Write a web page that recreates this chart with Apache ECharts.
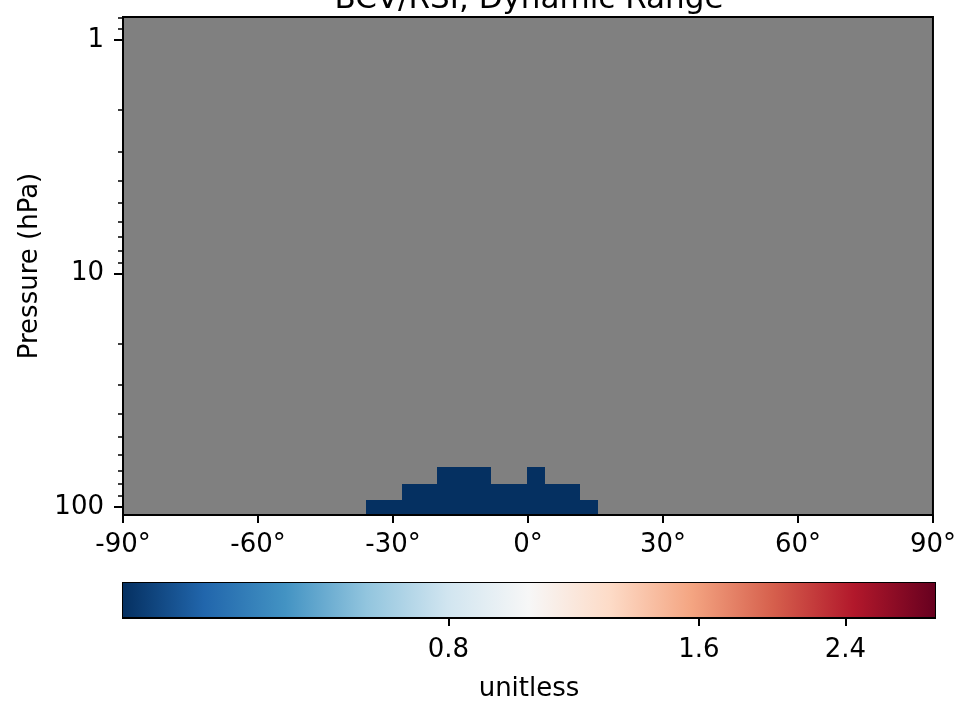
<!DOCTYPE html>
<html><head><meta charset="utf-8">
<script src="https://cdn.jsdelivr.net/npm/echarts@6/dist/echarts.min.js"></script>
<style>html,body{margin:0;padding:0;background:#fff}#c{width:959px;height:703px}</style>
</head><body><div id="c"></div>
<script>
const titleText = 'BCV/RSI, Dynamic Range';
const yAxisName = 'Pressure (hPa)';
const colorbarName = 'unitless';
const latMin = -90, latMax = 90, latStep = 30;
const pressureMin = 0.798, pressureMax = 108.4;
const pressureMajorTicks = [1, 10, 100];
const pressureMinorTicks = [0.8, 0.9, 2, 3, 4, 5, 6, 7, 8, 9, 20, 30, 40, 50, 60, 70, 80, 90];
const colorMin = 0.325, colorMax = 3.075;
const colorbarTicks = [0.8, 1.6, 2.4];
// cell edges
const latEdges = [-36.05, -32.08, -28.1, -24.13, -20.15, -16.18, -12.2, -8.23, -4.25, -0.28, 3.7, 7.67, 11.65, 15.62];
const pressureEdges = [108.4, 93.2, 79.6, 67.4];
// values per pressure row (bottom to top), one per latitude cell; null = no data
const row0 = [0.325, 0.325, 0.325, 0.325, 0.325, 0.325, 0.325, 0.325, 0.325, 0.325, 0.325, 0.325, 0.325];
const row1 = [null, null, 0.325, 0.325, 0.325, 0.325, 0.325, 0.325, 0.325, 0.325, 0.325, 0.325, null];
const row2 = [null, null, null, null, 0.325, 0.325, 0.325, null, null, 0.325, null, null, null];
const rows = [row0, row1, row2];
const rdbuR = ['#053061', '#2166ac', '#4393c3', '#92c5de', '#d1e5f0', '#f7f7f7', '#fddbc7', '#f4a582', '#d6604d', '#b2182b', '#67001f'];

const L = Math.log10;
const cells = [];
rows.forEach((row, r) => {
  row.forEach((v, i) => {
    if (v == null) return;
    cells.push([latEdges[i], latEdges[i + 1], L(pressureEdges[r]), L(pressureEdges[r + 1]), L(v)]);
  });
});

const FONT = 'DejaVu Sans';
const txt = { color: '#000', fontFamily: FONT, fontSize: 26 };
const blackLine = { color: '#000', width: 2 };

const chart = echarts.init(document.getElementById('c'), null, { renderer: 'canvas' });
chart.setOption({
  backgroundColor: '#fff',
  animation: false,
  title: {
    text: titleText, left: 529, top: -16, padding: 0, textAlign: 'center',
    textStyle: { color: '#000', fontFamily: FONT, fontSize: 31, fontWeight: 'normal' }
  },
  grid: [
    { left: 123, top: 17, width: 812, height: 498, show: true, backgroundColor: '#808080', borderColor: '#000', borderWidth: 2 },
    { left: 123, top: 583, width: 812, height: 40, show: true, backgroundColor: 'transparent', borderColor: '#000', borderWidth: 2 }
  ],
  xAxis: [
    {
      type: 'value', gridIndex: 0, min: latMin, max: latMax, interval: latStep, z: 10,
      axisLine: { show: true, onZero: false, lineStyle: blackLine },
      axisTick: { show: true, length: 8, lineStyle: blackLine },
      axisLabel: { ...txt, margin: 17, formatter: v => v + '°' },
      splitLine: { show: false }
    },
    {
      type: 'value', gridIndex: 1, min: L(colorMin), max: L(colorMax), z: 10,
      axisLine: { show: true, onZero: false, lineStyle: blackLine },
      axisTick: { show: true, length: 8, lineStyle: blackLine, customValues: colorbarTicks.map(L) },
      axisLabel: { ...txt, margin: 19, customValues: colorbarTicks.map(L), formatter: v => Math.pow(10, v).toFixed(1) },
      splitLine: { show: false },
      name: colorbarName, nameLocation: 'middle', nameGap: 58, nameTextStyle: txt
    }
  ],
  yAxis: [
    {
      type: 'value', gridIndex: 0, position: 'left', inverse: true, min: L(pressureMin), max: L(pressureMax), z: 10,
      axisLine: { show: true, onZero: false, lineStyle: blackLine },
      axisTick: { show: true, length: 9, lineStyle: blackLine, customValues: pressureMajorTicks.map(L) },
      axisLabel: { ...txt, margin: 19, customValues: pressureMajorTicks.map(L), formatter: v => String(Math.round(Math.pow(10, v))) },
      splitLine: { show: false },
      name: yAxisName, nameLocation: 'middle', nameGap: 79, nameTextStyle: txt
    },
    {
      type: 'value', gridIndex: 0, position: 'left', inverse: true, min: L(pressureMin), max: L(pressureMax), z: 10,
      axisLine: { show: false, onZero: false },
      axisTick: { show: true, length: 5, lineStyle: { color: '#000', width: 1.5 }, customValues: pressureMinorTicks.map(L) },
      axisLabel: { show: false },
      splitLine: { show: false }
    },
    {
      type: 'value', gridIndex: 1, min: 0, max: 1, show: false
    }
  ],
  visualMap: {
    type: 'continuous', show: false, seriesIndex: 0, dimension: 4,
    min: L(colorMin), max: L(colorMax), inRange: { color: rdbuR }
  },
  series: [
    {
      type: 'custom', xAxisIndex: 0, yAxisIndex: 0, data: cells,
      encode: { x: [0, 1], y: [2, 3] },
      renderItem: (params, api) => {
        const a = api.coord([api.value(0), api.value(2)]);
        const b = api.coord([api.value(1), api.value(3)]);
        const x0 = Math.round(Math.min(a[0], b[0])), x1 = Math.round(Math.max(a[0], b[0]));
        const y0 = Math.round(Math.min(a[1], b[1])), y1 = Math.round(Math.max(a[1], b[1]));
        return {
          type: 'rect',
          shape: { x: x0, y: y0, width: x1 - x0, height: y1 - y0 },
          style: { fill: api.visual('color') }
        };
      }
    },
    {
      type: 'custom', xAxisIndex: 1, yAxisIndex: 2, data: [[L(colorMin), L(colorMax)]],
      encode: { x: [0, 1] },
      renderItem: (params, api) => {
        const a = api.coord([api.value(0), 0]);
        const b = api.coord([api.value(1), 1]);
        const stops = rdbuR.map((c, i) => ({ offset: i / (rdbuR.length - 1), color: c }));
        return {
          type: 'rect',
          shape: { x: a[0], y: b[1], width: b[0] - a[0], height: a[1] - b[1] },
          style: { fill: new echarts.graphic.LinearGradient(0, 0, 1, 0, stops) }
        };
      }
    }
  ]
});
</script></body></html>
